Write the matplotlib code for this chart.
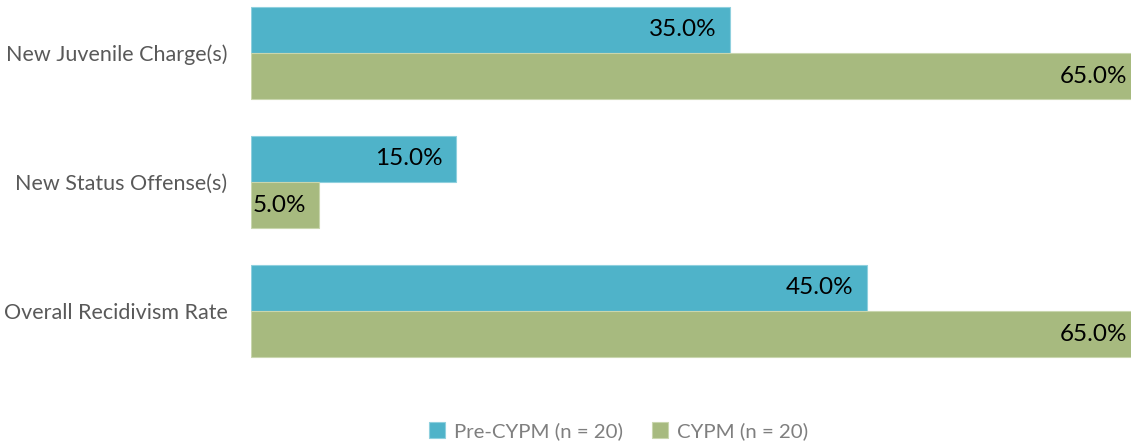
import matplotlib.pyplot as plt
import numpy as np

categorias = ['New Juvenile Charge(s)', 'New Status Offense(s)', 'Overall Recidivism Rate']
pre_cypm = [35.0, 15.0, 45.0]
cypm = [65.0, 5.0, 65.0]
series_labels = ['Pre-CYPM (n = 20)', 'CYPM (n = 20)']

cor_pre = '#4FB3C9'
cor_cypm = '#A7BA7F'
plt.rcParams['font.family'] = ['Lato', 'DejaVu Sans']

fig = plt.figure(figsize=(11.31, 4.43), dpi=100)
ax = fig.add_axes([251 / 1131, 58 / 443, 880 / 1131, 385 / 443])

y = np.arange(len(categorias))
h = 0.36
xmax = 64.3

b1 = ax.barh(y - h / 2, pre_cypm, height=h, color=cor_pre, edgecolor='#8FD0DE',
             linewidth=0.8, label=series_labels[0])
b2 = ax.barh(y + h / 2, cypm, height=h, color=cor_cypm, edgecolor='#C9D6AE',
             linewidth=0.8, label=series_labels[1])

# rotulos dentro do fim das barras
for bars in (b1, b2):
    for bar in bars:
        v = bar.get_width()
        ax.text(v - 1.0, bar.get_y() + bar.get_height() / 2, f'{v:.1f}%',
                ha='right', va='center', fontsize=17.5, color='black')

ax.set_xlim(0, xmax)
ax.set_ylim(2.574, -0.411)
ax.set_yticks(y)
ax.set_yticklabels(categorias, fontsize=15.5, color='#595959')
ax.tick_params(axis='y', length=0, pad=17)
ax.set_xticks([])
for s in ax.spines.values():
    s.set_visible(False)

fig.legend(loc='lower center', bbox_to_anchor=(0.547, -0.035), ncol=2, frameon=False,
           fontsize=14.7, labelcolor='#7F7F7F', handlelength=0.8, handleheight=0.8,
           handletextpad=0.45, columnspacing=1.4)

plt.savefig('out.png', dpi=100)
